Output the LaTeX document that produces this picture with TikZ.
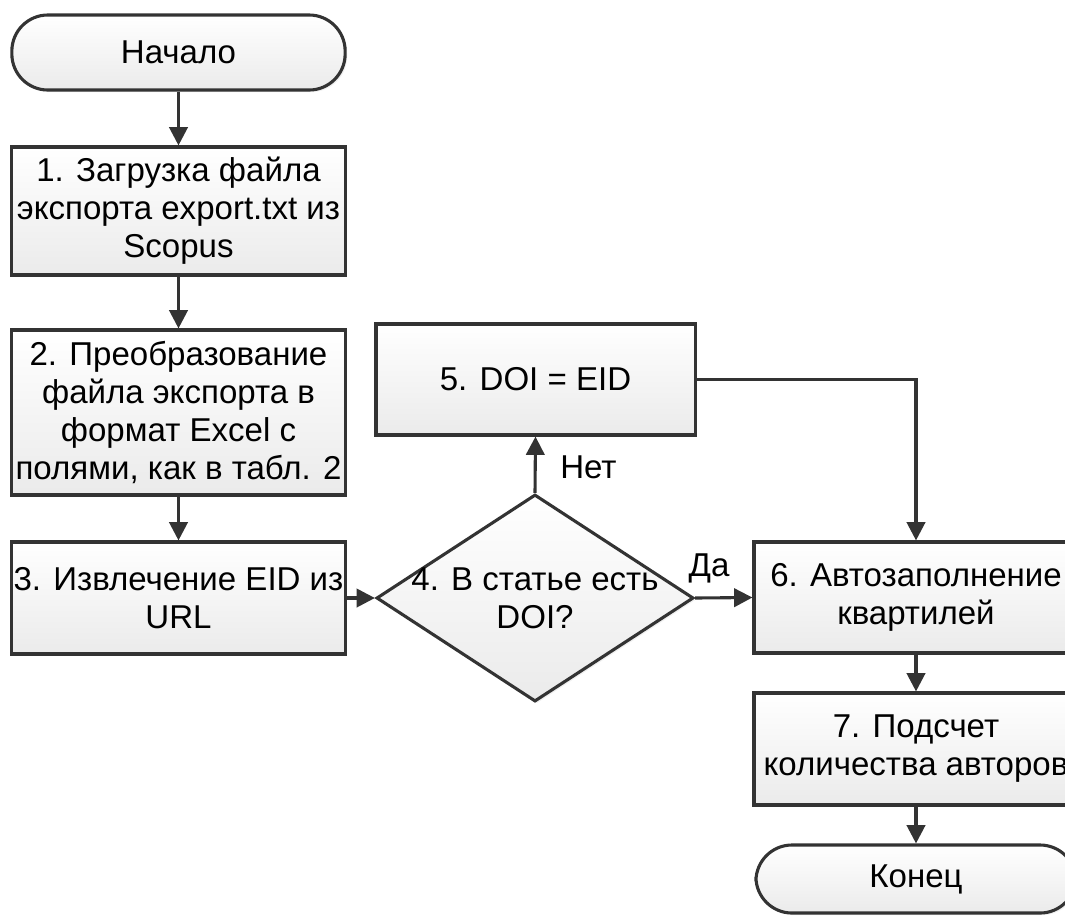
\documentclass[tikz,border=0pt]{standalone}
\usepackage{fontspec}
\setmainfont{Liberation Sans}
\usetikzlibrary{arrows.meta,shapes.geometric,shadows}
\definecolor{lc}{HTML}{333333}
\tikzset{
  blk/.style={draw=lc, line width=2.2pt, top color=white, bottom color=gray!16,
    drop shadow={opacity=0.12,shadow xshift=1.5pt,shadow yshift=-1.5pt},
    align=center, inner sep=0pt, font=\fontsize{23.5}{27}\selectfont},
  term/.style={blk, rounded corners=0.9cm},
  txt/.style={font=\fontsize{23.5}{27}\selectfont, inner sep=0pt},
  conn/.style={draw=lc, line width=2.2pt, -{Triangle[length=13pt,width=13pt]}},
}

\begin{document}
\begin{tikzpicture}[x=0.025cm,y=-0.025cm]
\clip (0,0) rectangle (1065,917);
\node[term, minimum width=8.33cm, minimum height=1.875cm] (start) at (178.5,52.5) {Начало};
\node[blk, minimum width=8.33cm, minimum height=3.2cm] (load) at (178.5,211) {1. Загрузка файла\\экспорта export.txt из\\Scopus};
\node[blk, minimum width=8.33cm, minimum height=4.125cm] (conv) at (178.5,412.5) {2. Преобразование\\файла экспорта в\\формат Excel с\\полями, как в табл. 2};
\node[blk, minimum width=8.33cm, minimum height=2.8cm] (eid) at (178.5,598) {3. Извлечение EID из\\URL};
\node[blk, shape=diamond, minimum width=7.925cm, minimum height=5.175cm] (hasdoi) at (535,598) {};
\node[txt, align=center] (hasdoitxt) at (535,598) {4. В статье есть\\DOI?};
\node[blk, minimum width=7.975cm, minimum height=2.775cm] (doieid) at (535.5,379.5) {5. DOI = EID};
\node[blk, minimum width=8.1cm, minimum height=2.775cm] (quart) at (916,597.5) {6. Автозаполнение\\квартилей};
\node[blk, minimum width=8.1cm, minimum height=2.8cm] (count) at (916,749) {7. Подсчет\\количества авторов};
\node[term, minimum width=8cm, minimum height=1.7cm] (stop) at (916,879) {Конец};

\draw[conn] (start) -- (load);
\draw[conn] (load) -- (conv);
\draw[conn] (conv) -- (eid);
\draw[conn] (eid) -- (hasdoi);
\draw[conn] (hasdoi.north) -- (doieid.south);
\draw[conn] (hasdoi.east) -- (quart.west);
\draw[conn] (doieid.east) -| (quart.north);
\draw[conn] (quart) -- (count);
\draw[conn] (count) -- (stop);
\node[txt, anchor=west] (no) at (560,467) {Нет};
\node[txt] (yes) at (709,568) {Да};
\end{tikzpicture}
\end{document}
